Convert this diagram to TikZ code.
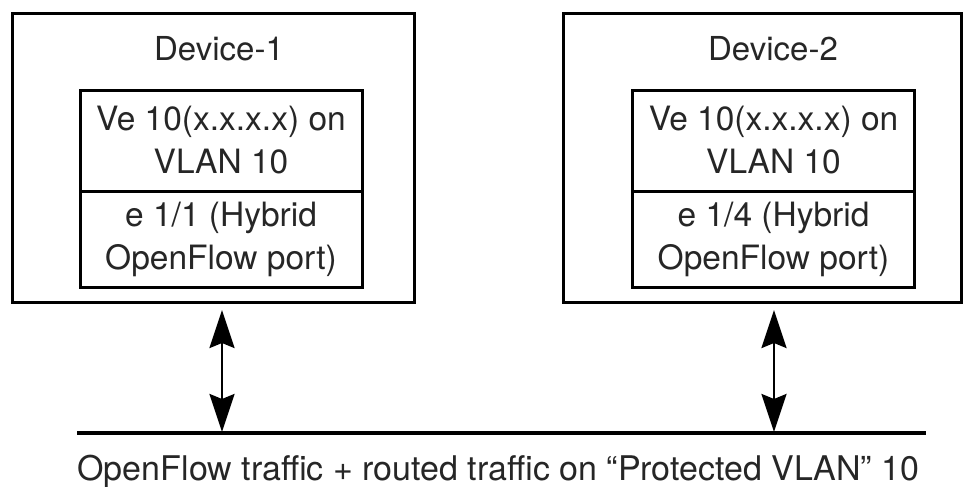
\documentclass[tikz,border=0pt]{standalone}
\usepackage{fontspec}
\setmainfont{TeX Gyre Heros}
\usetikzlibrary{arrows.meta}
\begin{document}
\begin{tikzpicture}[x=1pt,y=-1pt,
 every node/.style={text=black!85},
 bigtext/.style={font=\fontsize{33}{40}\selectfont, anchor=base, inner sep=0pt},
 devbox/.style={draw, line width=3pt, inner sep=0pt},
 cell/.style={draw, line width=3pt, inner sep=0pt, align=center, minimum width=282pt, font=\fontsize{33.5}{43}\selectfont},
 link/.style={line width=2.8pt, {Stealth[length=38pt,width=25pt,inset=5pt]}-{Stealth[length=38pt,width=25pt,inset=5pt]}},
 bus/.style={line width=3.6pt}]
\useasboundingbox (0,0) rectangle (972,487);

% Device 1
\node[devbox, minimum width=402pt, minimum height=288pt] (dev1) at (213,158) {};
\node[bigtext] (dev1lbl) at (219,60) {Device-1};
\node[cell, minimum height=101pt] (ve1) at (221,140.5) {Ve 10(x.x.x.x) on\\VLAN 10};
\node[cell, minimum height=96pt] (port1) at (221,239) {e 1/1 (Hybrid\\OpenFlow port)};

% Device 2
\node[devbox, minimum width=398pt, minimum height=288pt] (dev2) at (762,158) {};
\node[bigtext] (dev2lbl) at (773,60) {Device-2};
\node[cell, minimum height=101pt] (ve2) at (773.5,140.5) {Ve 10(x.x.x.x) on\\VLAN 10};
\node[cell, minimum height=96pt] (port2) at (773.5,239) {e 1/4 (Hybrid\\OpenFlow port)};

% Bus
\coordinate (busL) at (77,433);
\coordinate (busR) at (926,433);
\draw[bus] (busL) -- (busR);
\node[bigtext, font=\fontsize{34}{40}\selectfont] (buslbl) at (498.5,480.5) {OpenFlow traffic + routed traffic on “Protected VLAN” 10};

% Links
\coordinate (l1t) at (222,310);
\coordinate (l1b) at (222,432);
\coordinate (l2t) at (774,310);
\coordinate (l2b) at (774,432);
\draw[link] (l1t) -- (l1b);
\draw[link] (l2t) -- (l2b);
\end{tikzpicture}
\end{document}
